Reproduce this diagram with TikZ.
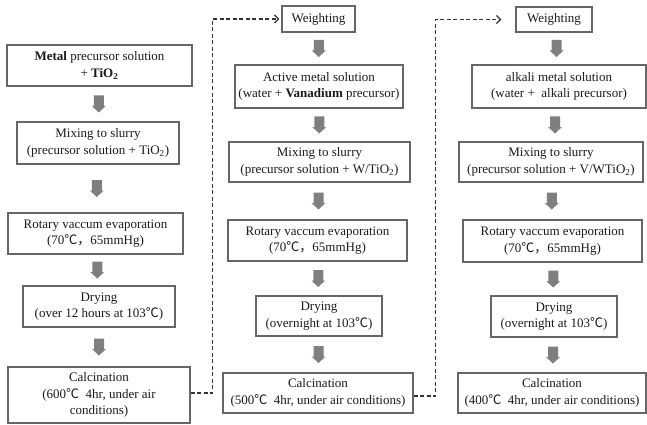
\documentclass[tikz,border=0pt]{standalone}
\usepackage{fontspec}
\setmainfont{Liberation Serif}
\newfontfamily\cjk{Noto Sans CJK KR}
\newcommand\degC{{\cjk ℃}}
\newcommand\cjkcomma{{\cjk ，}}
\usetikzlibrary{calc,arrows.meta}
\definecolor{boxline}{HTML}{666666}
\definecolor{blkgray}{HTML}{7F7F7F}
\definecolor{txt}{HTML}{1A1A1A}
\definecolor{dashc}{HTML}{333333}
\tikzset{
  stepbox/.style={draw=boxline, line width=1.3pt, fill=white, text=txt, align=center,
    font=\fontsize{13}{16.5}\selectfont, inner sep=0pt},
  blkarrow/.style={fill=blkgray, draw=none},
  dashline/.style={draw=dashc, line width=1.3pt, dash pattern=on 4pt off 2.5pt},
}
\newcommand\blk[2]{%
  \path ($(#1.south)!0.5!(#2.north)$) coordinate (m);
  \fill[blkarrow] ($(m)+(-5,-8.5)$) -- ($(m)+(5,-8.5)$) -- ($(m)+(5,2)$) -- ($(m)+(7,2)$)
    -- ($(m)+(0,8.5)$) -- ($(m)+(-7,2)$) -- ($(m)+(-5,2)$) -- cycle;}
\begin{document}
\begin{tikzpicture}[x=1pt,y=-1pt]
\useasboundingbox (0,0) rectangle (647,425);
% column 1
\node[stepbox, minimum width=185pt, minimum height=41pt] (a1) at (99.5,65.5) {\textbf{Metal} precursor solution\\ + \textbf{TiO\textsubscript{2}}};
\node[stepbox, minimum width=162pt, minimum height=42pt] (a2) at (98,143) {Mixing to slurry\\(precursor solution + TiO\textsubscript{2})};
\node[stepbox, minimum width=175pt, minimum height=41pt] (a3) at (95.5,233.5) {Rotary vaccum evaporation\\(70\degC\cjkcomma 65mmHg)};
\node[stepbox, minimum width=152pt, minimum height=41pt] (a4) at (99,306.5) {Drying\\(over 12 hours at 103\degC)};
\node[stepbox, minimum width=182pt, minimum height=56pt] (a5) at (99,395) {Calcination\\(600\degC\ \ 4hr, under air\\conditions)};
% column 2
\node[stepbox, minimum width=73pt, minimum height=26pt] (b0) at (318.5,19) {Weighting};
\node[stepbox, minimum width=168pt, minimum height=43pt] (b1) at (319,86.5) {Active metal solution\\(water + \textbf{Vanadium} precursor)};
\node[stepbox, minimum width=181pt, minimum height=40pt] (b2) at (319.5,162) {Mixing to slurry\\(precursor solution + W/TiO\textsubscript{2})};
\node[stepbox, minimum width=179pt, minimum height=41pt] (b3) at (317.5,240.5) {Rotary vaccum evaporation\\(70\degC\cjkcomma 65mmHg)};
\node[stepbox, minimum width=126pt, minimum height=40pt] (b4) at (319,316) {Drying\\(overnight at 103\degC)};
\node[stepbox, minimum width=190pt, minimum height=40pt] (b5) at (318,393) {Calcination\\(500\degC\ \ 4hr, under air conditions)};
% column 3
\node[stepbox, minimum width=76pt, minimum height=25pt] (c0) at (554,19.5) {Weighting};
\node[stepbox, minimum width=174pt, minimum height=43pt] (c1) at (559,86.5) {alkali metal solution\\(water +\ \ alkali precursor)};
\node[stepbox, minimum width=184pt, minimum height=40pt] (c2) at (551,162) {Mixing to slurry\\(precursor solution + V/WTiO\textsubscript{2})};
\node[stepbox, minimum width=179pt, minimum height=42pt] (c3) at (552.5,241) {Rotary vaccum evaporation\\(70\degC\cjkcomma 65mmHg)};
\node[stepbox, minimum width=126pt, minimum height=41pt] (c4) at (554,316.5) {Drying\\(overnight at 103\degC)};
\node[stepbox, minimum width=188pt, minimum height=40pt] (c5) at (552,393) {Calcination\\(400\degC\ \ 4hr, under air conditions)};
% block arrows
\blk{a1}{a2}\blk{a2}{a3}\blk{a3}{a4}\blk{a4}{a5}
\blk{b0}{b1}\blk{b1}{b2}\blk{b2}{b3}\blk{b3}{b4}\blk{b4}{b5}
\blk{c0}{c1}\blk{c1}{c2}\blk{c2}{c3}\blk{c3}{c4}\blk{c4}{c5}
% dashed connectors
\coordinate (k1) at ($(a5.east)+(22,-2)$);
\draw[dashline, -{Straight Barb[length=4pt,width=8pt]}, shorten >=2pt] ($(a5.east)+(0,-2)$) -- (k1) |- (b0.west);
\coordinate (k2) at ($(b5.east)+(22,3)$);
\draw[dashline, -{Straight Barb[length=4pt,width=8pt]}, shorten >=14pt] ($(b5.east)+(0,3)$) -- (k2) |- (c0.west);
\end{tikzpicture}
\end{document}
